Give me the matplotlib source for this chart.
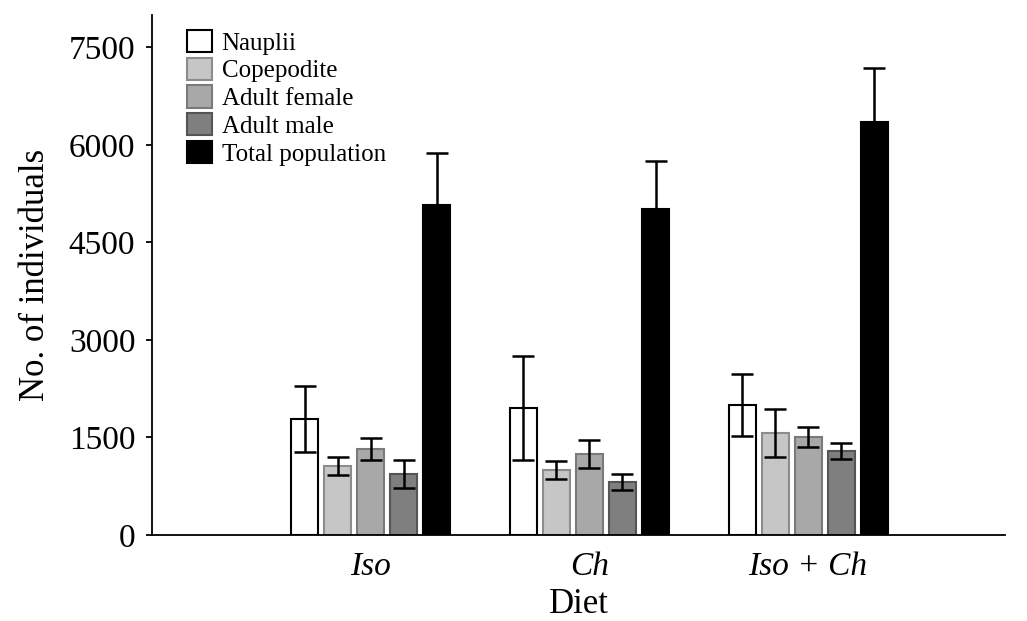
import matplotlib
matplotlib.use("Agg")
import matplotlib.pyplot as plt
import numpy as np

diets = ["Iso", "Ch", "Iso + Ch"]
stages = ["Nauplii", "Copepodite", "Adult female", "Adult male", "Total population"]
means = {
    "Nauplii":          [1780, 1950, 2000],
    "Copepodite":       [1060, 1000, 1570],
    "Adult female":     [1320, 1245, 1505],
    "Adult male":       [935, 815, 1290],
    "Total population": [5070, 5010, 6360],
}
errors = {
    "Nauplii":          [510, 800, 475],
    "Copepodite":       [140, 135, 370],
    "Adult female":     [170, 215, 155],
    "Adult male":       [215, 120, 125],
    "Total population": [800, 740, 830],
}
facecolors = ["white", "#c6c6c6", "#a8a8a8", "#7f7f7f", "black"]
edgecolors = ["black", "#8c8c8c", "#7a7a7a", "#555555", "black"]

plt.rcParams["font.family"] = ["Liberation Serif", "DejaVu Serif"]

fig = plt.figure(figsize=(10.27, 6.21), dpi=100)
ax = fig.add_axes([0.148, 0.1385, 0.8306, 0.8375])

x = np.arange(1, len(diets) + 1)
spacing = 0.151
width = 0.124
for i, s in enumerate(stages):
    pos = x + (i - 2) * spacing
    ax.bar(pos, means[s], width=width, color=facecolors[i], edgecolor=edgecolors[i],
           linewidth=1.5, label=s, zorder=2)
    ax.errorbar(pos, means[s], yerr=errors[s], fmt="none", ecolor="black",
                elinewidth=1.8, capsize=8, capthick=1.8, zorder=3)

ax.set_xlim(0, 3.9)
ax.set_ylim(0, 8000)
ax.set_yticks([0, 1500, 3000, 4500, 6000, 7500])
ax.set_xticks(x)
ax.set_xticklabels(diets, fontstyle="italic", fontsize=24)
ax.tick_params(axis="y", labelsize=24, direction="out", length=4, width=1.3, pad=8)
ax.tick_params(axis="x", direction="in", length=3, width=1.3, pad=12)
for sp in ["top", "right"]:
    ax.spines[sp].set_visible(False)
for sp in ["left", "bottom"]:
    ax.spines[sp].set_linewidth(1.3)

ax.set_ylabel("No. of individuals", fontsize=25, labelpad=12)
ax.set_xlabel("Diet", fontsize=25, labelpad=4)

ax.legend(loc="upper left", bbox_to_anchor=(0.02, 1.005), frameon=False, fontsize=18,
          handlelength=1.0, handleheight=1.0, labelspacing=0.12, handletextpad=0.4,
          borderaxespad=0.3)

fig.savefig("out.png", dpi=100)
